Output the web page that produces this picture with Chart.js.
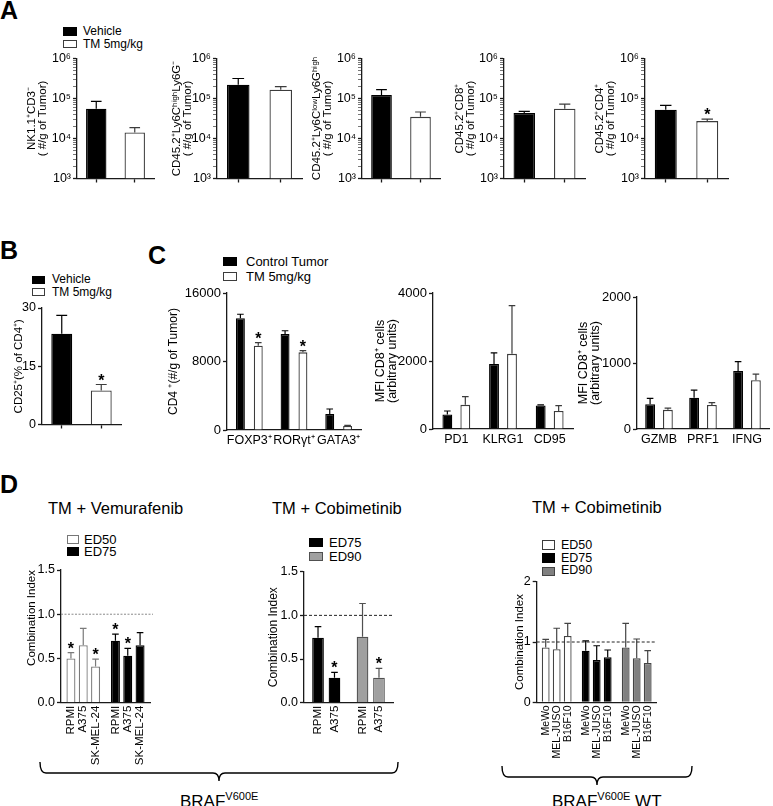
<!DOCTYPE html>
<html>
<head>
<meta charset="utf-8">
<title>Figure</title>
<script src="https://cdn.jsdelivr.net/npm/chart.js@4.4.1/dist/chart.umd.min.js"></script>
<style>
  body { margin: 0; background: #fff; }
  #fig { position: relative; width: 773px; height: 806px; overflow: hidden; font-family: "Liberation Sans", Arial, Helvetica, sans-serif; color: #000; }
  #fig canvas { position: absolute; }
  .txt { position: absolute; white-space: nowrap; line-height: 1; }
  .letter { font-weight: bold; font-size: 25px; }
  .sw { position: absolute; box-sizing: border-box; border: 1.3px solid #3c3c3c; background: #fff; }
  .blk { background: #000; border-color: #000; }
  .sup { position: relative; font-size: 11px; top: -7px; }
  svg { position: absolute; left: 0; top: 0; }
</style>
</head>
<body>
<div id="fig">
  <!-- panel letters -->
  <div class="txt letter" style="left:0;top:-2px">A</div>
  <div class="txt letter" style="left:0;top:238px">B</div>
  <div class="txt letter" style="left:148px;top:243px">C</div>
  <div class="txt letter" style="left:0;top:472px">D</div>

  <!-- legends -->
  <div class="sw blk" style="left:63px;top:27px;width:14px;height:8.5px"></div>
  <div class="sw" style="left:63px;top:39.5px;width:14px;height:8.5px"></div>
  <div class="txt" style="left:83px;top:25px;font-size:12px">Vehicle</div>
  <div class="txt" style="left:83px;top:38.4px;font-size:12px">TM 5mg/kg</div>

  <div class="sw blk" style="left:32px;top:276px;width:13px;height:8px"></div>
  <div class="sw" style="left:32px;top:288px;width:13px;height:8px"></div>
  <div class="txt" style="left:52px;top:273.4px;font-size:12px">Vehicle</div>
  <div class="txt" style="left:52px;top:285.8px;font-size:12px">TM 5mg/kg</div>

  <div class="sw blk" style="left:223px;top:257px;width:14px;height:8.5px"></div>
  <div class="sw" style="left:223px;top:272px;width:14px;height:8.5px"></div>
  <div class="txt" style="left:246px;top:254.6px;font-size:13px">Control Tumor</div>
  <div class="txt" style="left:246px;top:269.6px;font-size:13px">TM 5mg/kg</div>

  <div class="txt" style="left:48px;top:500px;font-size:16.5px">TM + Vemurafenib</div>
  <div class="txt" style="left:272px;top:500px;font-size:16.5px">TM + Cobimetinib</div>
  <div class="txt" style="left:532px;top:498.5px;font-size:16.5px">TM + Cobimetinib</div>

  <div class="sw" style="left:67px;top:535px;width:12px;height:9px;border-color:#777"></div>
  <div class="sw blk" style="left:67px;top:547px;width:12px;height:9px"></div>
  <div class="txt" style="left:84px;top:533px;font-size:13px">ED50</div>
  <div class="txt" style="left:84px;top:545px;font-size:13px">ED75</div>

  <div class="sw blk" style="left:309px;top:538px;width:14px;height:9px"></div>
  <div class="sw" style="left:309px;top:552px;width:14px;height:9px;background:#a0a0a0;border-color:#505050"></div>
  <div class="txt" style="left:329px;top:536.3px;font-size:13px">ED75</div>
  <div class="txt" style="left:329px;top:550.3px;font-size:13px">ED90</div>

  <div class="sw" style="left:542px;top:540px;width:13px;height:9.5px"></div>
  <div class="sw blk" style="left:542px;top:553px;width:13px;height:9.5px"></div>
  <div class="sw" style="left:542px;top:566.5px;width:13px;height:9.5px;background:#808080;border-color:#444"></div>
  <div class="txt" style="left:561px;top:538.9px;font-size:12.5px">ED50</div>
  <div class="txt" style="left:561px;top:551.6px;font-size:12.5px">ED75</div>
  <div class="txt" style="left:561px;top:563.9px;font-size:12.5px">ED90</div>

  <!-- genotype braces -->
  <svg width="773" height="806">
    <path d="M40,762 Q40,773 46,773 L213,773 Q219,773 219,781 Q219,773 225,773 L392,773 Q398,773 398,762" fill="none" stroke="#000" stroke-width="1.4"/>
    <path d="M502,766 Q502,777 508,777 L591,777 Q597,777 597,785 Q597,777 603,777 L686,777 Q692,777 692,766" fill="none" stroke="#000" stroke-width="1.4"/>
  </svg>
  <div class="txt" style="left:180px;top:793px;font-size:17px">BRAF<span class="sup">V600E</span></div>
  <div class="txt" style="left:552px;top:793px;font-size:17px">BRAF<span class="sup">V600E</span> WT</div>
</div>

<script>
// ---------- data ----------
// A: cells per g of tumor (log axis), vehicle vs TM
const groupsA = ['Vehicle', 'TM 5mg/kg'];
const logMajor = [1e3, 1e4, 1e5, 1e6];
const nkMean = [55700, 14100];
const nkSem = [28600, 4600];
const ly6cHiMean = [220000, 166000];
const ly6cHiSem = [96000, 31000];
const ly6gHiMean = [123000, 34800];
const ly6gHiSem = [43000, 11200];
const cd8Mean = [43600, 55600];
const cd8Sem = [4300, 17000];
const cd4Mean = [52500, 27200];
const cd4Sem = [14500, 3300];
const cd4Stars = [false, true];

// B: CD25+ (% of CD4+)
const cd25Mean = [23.4, 8.75];
const cd25Sem = [4.7, 1.55];
const cd25Stars = [false, true];

// C: control tumor vs TM 5mg/kg
const tfLabels = ['FOXP3⁺', 'RORγt⁺', 'GATA3⁺'];
const tfControl = [13050, 11200, 1870];
const tfControlSem = [470, 390, 580];
const tfTM = [9850, 9070, 470];
const tfTMSem = [350, 195, 60];
const tfStars = [true, true, false];

const exhLabels = ['PD1', 'KLRG1', 'CD95'];
const exhControl = [430, 1910, 690];
const exhControlSem = [100, 330, 20];
const exhTM = [710, 2210, 530];
const exhTMSem = [240, 1420, 160];

const cytLabels = ['GZMB', 'PRF1', 'IFNG'];
const cytControl = [375, 475, 880];
const cytControlSem = [90, 115, 140];
const cytTM = [290, 365, 740];
const cytTMSem = [25, 35, 90];

// D: combination index, one row per cell line, one column per dose
const vemDoses = ['ED50', 'ED75'];
const vemLines = ['RPMI', 'A375', 'SK-MEL-24'];
const vemCI = [[0.50, 0.70], [0.65, 0.53], [0.41, 0.65]];
const vemSem = [[0.066, 0.075], [0.19, 0.083], [0.083, 0.143]];
const vemStars = [[true, true], [false, true], [true, false]];

const cobDoses = ['ED75', 'ED90'];
const cobLines = ['RPMI', 'A375'];
const cobCI = [[0.745, 0.756], [0.286, 0.286]];
const cobSem = [[0.125, 0.38], [0.062, 0.108]];
const cobStars = [[false, false], [true, true]];

const wtDoses = ['ED50', 'ED75', 'ED90'];
const wtLines = ['MeWo', 'MEL-JUSO', 'B16F10'];
const wtCI = [[0.91, 0.856, 0.91], [0.88, 0.70, 0.73], [1.10, 0.746, 0.652]];
const wtSem = [[0.133, 0.164, 0.398], [0.348, 0.238, 0.32], [0.21, 0.121, 0.204]];

// ---------- drawing ----------
const FONT = '"Liberation Sans", Arial, Helvetica, sans-serif';
const AXIS = '#1a1a1a';
const EDGE = '#3c3c3c';
const SUP = {3: '³', 4: '⁴', 5: '⁵', 6: '⁶'};
Chart.defaults.font.family = FONT;
Chart.defaults.color = '#000';
Chart.defaults.animation = false;

const fig = document.getElementById('fig');
const pick = (v, i) => Array.isArray(v) ? v[i] : v;
const plain = v => String(v);

// upward SEM bars plus significance stars
const errorBars = {
  id: 'errorBars',
  afterDatasetsDraw(chart) {
    const ctx = chart.ctx;
    const y = chart.scales.y;
    chart.data.datasets.forEach((ds, i) => {
      if (!ds.errors) return;
      chart.getDatasetMeta(i).data.forEach((bar, j) => {
        const top = y.getPixelForValue(ds.data[j] + ds.errors[j]);
        const half = Math.max(3.3, bar.width * 0.26);
        ctx.save();
        ctx.strokeStyle = pick(ds.errColor, j);
        ctx.lineWidth = 1.2;
        ctx.beginPath();
        ctx.moveTo(bar.x, bar.y);
        ctx.lineTo(bar.x, top);
        ctx.moveTo(bar.x - half, top);
        ctx.lineTo(bar.x + half, top);
        ctx.stroke();
        if (ds.stars && ds.stars[j]) {
          ctx.fillStyle = '#000';
          ctx.font = 'bold 16px ' + FONT;
          ctx.textAlign = 'center';
          ctx.textBaseline = 'alphabetic';
          ctx.fillText('*', bar.x, top + 1);
        }
        ctx.restore();
      });
    });
  }
};

// dashed additivity line (CI = 1)
const refLine = {
  id: 'refLine',
  afterDatasetsDraw(chart, args, opts) {
    if (opts.value === undefined) return;
    const ctx = chart.ctx;
    const yy = chart.scales.y.getPixelForValue(opts.value);
    ctx.save();
    ctx.strokeStyle = opts.color;
    ctx.lineWidth = 1;
    ctx.setLineDash(opts.dash);
    ctx.beginPath();
    ctx.moveTo(chart.chartArea.left, yy);
    ctx.lineTo(chart.chartArea.right + (opts.extra || 0), yy);
    ctx.stroke();
    ctx.restore();
  }
};

// vertical cell line names under each bar
const barLabels = {
  id: 'barLabels',
  afterDraw(chart, args, opts) {
    if (!opts.font) return;
    const ctx = chart.ctx;
    const y0 = chart.chartArea.bottom + 3;
    chart.data.datasets.forEach((ds, i) => {
      chart.getDatasetMeta(i).data.forEach(bar => {
        ctx.save();
        ctx.translate(bar.x, y0);
        ctx.rotate(-Math.PI / 2);
        ctx.font = opts.font + ' ' + FONT;
        ctx.fillStyle = '#000';
        ctx.textAlign = 'right';
        ctx.textBaseline = 'middle';
        ctx.fillText(ds.label, 0, 0);
        ctx.restore();
      });
    });
  }
};

function addChart(s) {
  const lh = s.titleLh || 1;
  const left = Math.round(s.titleX - s.titleSize * lh / 2);
  const top = Math.round(s.T - s.padT);
  const width = Math.round(s.R + s.padR - left);
  const height = Math.round(s.B + s.xH + s.padB - top);
  const cv = document.createElement('canvas');
  cv.width = width;
  cv.height = height;
  Object.assign(cv.style, {left: left + 'px', top: top + 'px', width: width + 'px', height: height + 'px'});
  fig.appendChild(cv);

  const yW = s.L - left;
  const isMajor = v => logMajor.includes(v);

  const y = {
    type: s.log ? 'logarithmic' : 'linear',
    min: s.min,
    max: s.max,
    border: {display: true, color: AXIS, width: 1.3},
    grid: {
      display: true, drawOnChartArea: false, drawTicks: true, tickLength: 4, tickColor: AXIS,
      tickWidth: s.log ? (c => (c.tick && isMajor(c.tick.value)) ? 1.3 : 0.6) : 1.3
    },
    ticks: {autoSkip: false, padding: 2, color: '#000', font: {size: s.tickSize || 12}},
    title: {
      display: true, text: s.title, align: s.titleAlign || 'center', padding: 0, color: '#000',
      font: {size: s.titleSize, lineHeight: lh}
    },
    afterFit: sc => { sc.width = yW; }
  };
  if (s.step) y.ticks.stepSize = s.step;
  if (s.fmt) y.ticks.callback = s.fmt;
  if (s.log) {
    y.afterBuildTicks = sc => {
      const t = [];
      for (let i = 0; i < logMajor.length - 1; i++) {
        for (let k = 1; k < 10; k++) t.push({value: logMajor[i] * k});
      }
      t.push({value: logMajor[logMajor.length - 1]});
      sc.ticks = t;
    };
    y.ticks.callback = v => isMajor(v) ? '10' + SUP[Math.round(Math.log10(v))] : '';
  }

  const x = {
    offset: true,
    border: {display: true, color: AXIS, width: 1.3},
    grid: {display: true, offset: false, drawOnChartArea: false, drawTicks: !!s.xTicks, tickLength: 4, tickColor: AXIS, tickWidth: 1.3},
    ticks: {display: !!s.xLabels, autoSkip: false, maxRotation: 0, padding: 3, color: '#000', font: {size: s.xFont || 12}},
    afterFit: sc => { sc.height = s.xH; }
  };

  return new Chart(cv, {
    type: 'bar',
    data: {labels: s.labels, datasets: s.datasets},
    options: {
      responsive: false,
      animation: false,
      layout: {padding: {left: 0, top: s.T - top, right: left + width - s.R, bottom: top + height - s.B - s.xH}},
      datasets: {bar: {barPercentage: s.barPct, categoryPercentage: s.catPct, borderWidth: 1.3}},
      plugins: {
        legend: {display: false},
        tooltip: {enabled: false},
        refLine: s.ref || {},
        barLabels: s.barFont ? {font: s.barFont} : {}
      },
      scales: {x, y}
    },
    plugins: [errorBars, refLine, barLabels]
  });
}

// ----- panel A -----
function chartA(title, titleX, L, R, mean, sem, stars) {
  addChart({
    L, R, T: 58.5, B: 181, titleX, titleSize: 11.5, titleLh: 1.0, title,
    padT: 10, padR: 6, padB: 1, xH: 6, xTicks: true,
    log: true, min: 1e3, max: 1e6, tickSize: 12.5,
    barPct: 0.53, catPct: 1,
    labels: groupsA,
    datasets: [{
      label: 'cells', data: mean, errors: sem, stars: stars || [false, false],
      backgroundColor: ['#000', '#fff'], borderColor: ['#000', EDGE], errColor: ['#000', EDGE]
    }]
  });
}
chartA(['NK1.1⁺CD3⁻', '( #/g of Tumor)'], 32, 77, 154, nkMean, nkSem);
chartA(['CD45.2⁺Ly6CʰⁱᵍʰLy6G⁻', '( #/g of Tumor)'], 176.7, 217, 302, ly6cHiMean, ly6cHiSem);
chartA(['CD45.2⁺Ly6CˡᵒʷLy6Gʰⁱᵍʰ', '( #/g of Tumor)'], 316.7, 362, 440, ly6gHiMean, ly6gHiSem);
chartA(['CD45.2⁺CD8⁺', '( #/g of Tumor)'], 460, 504, 585, cd8Mean, cd8Sem);
chartA(['CD45.2⁺CD4⁺', '( #/g of Tumor)'], 600, 645, 728, cd4Mean, cd4Sem, cd4Stars);

// ----- panel B -----
addChart({
  L: 42, R: 121, T: 308, B: 427, titleX: 18.3, titleSize: 11.5, title: 'CD25⁺(% of CD4⁺)',
  padT: 10, padR: 6, padB: 1, xH: 6, xTicks: true,
  min: 0, max: 30, step: 15, tickSize: 12.5,
  barPct: 0.53, catPct: 1,
  labels: groupsA,
  datasets: [{
    label: 'CD25', data: cd25Mean, errors: cd25Sem, stars: cd25Stars,
    backgroundColor: ['#000', '#fff'], borderColor: ['#000', EDGE], errColor: ['#000', EDGE]
  }]
});

// ----- panel C -----
function chartC(s, labels, ctrl, ctrlSem, tm, tmSem, stars) {
  addChart(Object.assign({
    padT: 10, padR: 8, padB: 2, xH: 20, xLabels: true, xFont: 12.5, tickSize: 13, fmt: plain,
    labels,
    datasets: [
      {label: 'Control Tumor', data: ctrl, errors: ctrlSem, backgroundColor: '#000', borderColor: '#000', errColor: '#000'},
      {label: 'TM 5mg/kg', data: tm, errors: tmSem, stars: stars || [], backgroundColor: '#fff', borderColor: EDGE, errColor: EDGE}
    ]
  }, s));
}
chartC({L: 227, R: 361, T: 293, B: 430, titleX: 174, titleSize: 12, title: 'CD4 ⁺(#/g of Tumor)',
        min: 0, max: 16000, step: 8000, barPct: 0.5, catPct: 0.8},
       tfLabels, tfControl, tfControlSem, tfTM, tfTMSem, tfStars);
chartC({L: 433, R: 573, T: 293, B: 429, titleX: 380, titleSize: 12.5, titleLh: 1.0, title: ['MFI CD8⁺ cells', '(arbitrary units)'],
        min: 0, max: 4000, step: 2000, barPct: 0.55, catPct: 0.77},
       exhLabels, exhControl, exhControlSem, exhTM, exhTMSem);
chartC({L: 637, R: 769, T: 297, B: 429, titleX: 583, titleSize: 12.5, titleLh: 1.0, title: ['MFI CD8⁺ cells', '(arbitrary units)'],
        min: 0, max: 2000, step: 1000, barPct: 0.55, catPct: 0.81},
       cytLabels, cytControl, cytControlSem, cytTM, cytTMSem);

// ----- panel D -----
function chartD(s, doses, lines, ci, sem, stars, fill, edge) {
  addChart(Object.assign({
    padT: 10, padR: 6, padB: 66, xH: 0, tickSize: 12.5,
    labels: doses,
    datasets: lines.map((name, i) => ({
      label: name, data: ci[i], errors: sem[i], stars: stars ? stars[i] : [],
      backgroundColor: fill, borderColor: edge, errColor: edge
    }))
  }, s));
}
chartD({L: 61, R: 150, T: 570, B: 702.7, titleX: 31.5, titleSize: 11.5, title: 'Combination Index', titleAlign: 'end',
        min: 0, max: 1.5, step: 0.5, fmt: v => v.toFixed(1), barPct: 0.73, catPct: 0.83,
        ref: {value: 1, color: '#8a8a8a', dash: [2, 1.5], extra: 3}, barFont: '11.5px'},
       vemDoses, vemLines, vemCI, vemSem, vemStars, ['#fff', '#000'], ['#7a7a7a', '#000']);
chartD({L: 304, R: 393, T: 571.7, B: 702.7, titleX: 274, titleSize: 12, title: 'Combination Index',
        min: 0, max: 1.5, step: 0.5, fmt: v => v.toFixed(1), barPct: 0.71, catPct: 0.74,
        ref: {value: 1, color: '#222', dash: [3, 2]}, barFont: '11.5px'},
       cobDoses, cobLines, cobCI, cobSem, cobStars, ['#000', '#a0a0a0'], ['#000', '#505050']);
chartD({L: 536.7, R: 656.7, T: 581.7, B: 702.3, titleX: 520, titleSize: 11.5, title: 'Combination Index',
        min: 0, max: 2, step: 1, barPct: 0.71, catPct: 0.825,
        ref: {value: 1, color: '#222', dash: [3, 2]}, barFont: '10.5px'},
       wtDoses, wtLines, wtCI, wtSem, null, ['#fff', '#000', '#808080'], ['#444', '#000', '#444']);
</script>
</body>
</html>
